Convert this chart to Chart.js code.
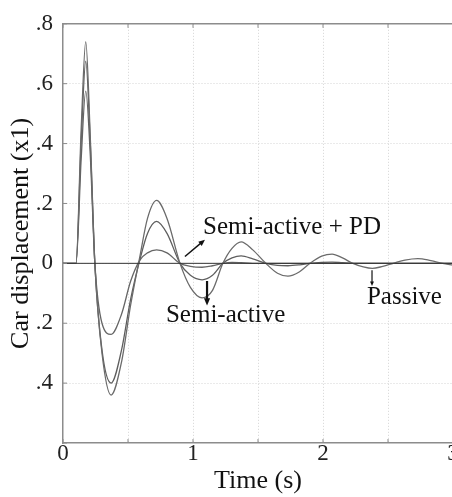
<!DOCTYPE html>
<html>
<head>
<meta charset="utf-8">
<script src="https://cdn.jsdelivr.net/npm/chart.js@4.4.0/dist/chart.umd.min.js"></script>
<style>
html, body { margin: 0; padding: 0; background: #fff; overflow: hidden; }
#wrap { width: 470px; height: 497px; }
</style>
</head>
<body>
<div id="wrap"><canvas id="chart" width="470" height="497"></canvas></div>
<script>
// time (s) and car displacement
var times        = [0, 0.1, 0.14, 0.175, 0.21, 0.245, 0.3, 0.37, 0.45, 0.52, 0.59, 0.65, 0.72, 0.8, 0.9, 0.98, 1.07, 1.15, 1.23, 1.3, 1.37, 1.46, 1.56, 1.65, 1.73, 1.82, 1.9, 1.99, 2.07, 2.15, 2.23, 2.31, 2.38, 2.46, 2.54, 2.63, 2.73, 2.83, 2.92, 3.0];
var passive      = [0, 0, 0.45, 0.74, 0.42, 0, -0.30, -0.44, -0.33, -0.14, 0.02, 0.15, 0.21, 0.15, 0, -0.08, -0.115, -0.09, 0, 0.05, 0.072, 0.045, 0, -0.033, -0.043, -0.028, 0, 0.024, 0.031, 0.018, 0, -0.012, -0.017, -0.01, 0, 0.011, 0.016, 0.009, 0, -0.006];
var semiActive   = [0, 0, 0.41, 0.675, 0.40, 0, -0.29, -0.40, -0.29, -0.12, 0.01, 0.10, 0.14, 0.10, 0, -0.04, -0.055, -0.04, 0, 0.018, 0.025, 0.015, 0, -0.007, -0.008, -0.005, 0, 0.003, 0.004, 0.002, 0, 0, 0, 0, 0, 0, 0, 0, 0, 0];
var semiActivePD = [0, 0, 0.35, 0.575, 0.36, 0, -0.20, -0.237, -0.17, -0.06, 0.01, 0.035, 0.045, 0.035, 0, -0.01, -0.013, -0.008, 0, 0.003, 0.002, 0, 0, 0, 0, 0, 0, 0, 0, 0, 0, 0, 0, 0, 0, 0, 0, 0, 0, 0];
var zeroLine     = [0, 0];
var zeroTimes    = [0, 3];

function pairs(xs, ys) {
    return xs.map(function (x, i) { return { x: x, y: ys[i] }; });
}

var serif = "'Liberation Serif', 'Times New Roman', serif";

var notes = [
    { text: "Semi-active + PD", x: 1.077, y: 0.099, from: [0.938, 0.023], to: [1.092, 0.079], w: 1.5, head: 7 },
    { text: "Semi-active", x: 0.792, y: -0.197, from: [1.108, -0.059], to: [1.108, -0.141], w: 2.2, head: 8 },
    { text: "Passive", x: 2.338, y: -0.135, from: [2.377, -0.023], to: [2.377, -0.076], w: 1.2, head: 5 }
];

var framePlugin = {
    id: "frame",
    afterDatasetsDraw: function (chart) {
        var ctx = chart.ctx, a = chart.chartArea;
        var xs = chart.scales.x, ys = chart.scales.y;
        ctx.save();
        ctx.strokeStyle = "#8c8c8c";
        ctx.lineWidth = 1.5;
        ctx.beginPath();
        ctx.moveTo(a.left, a.top);
        ctx.lineTo(a.right, a.top);
        ctx.lineTo(a.right, a.bottom);
        ctx.stroke();
        // inward tick marks
        ctx.lineWidth = 1;
        xs.ticks.forEach(function (t) {
            var px = xs.getPixelForValue(t.value);
            ctx.beginPath();
            ctx.moveTo(px, a.top); ctx.lineTo(px, a.top + 4);
            ctx.moveTo(px, a.bottom); ctx.lineTo(px, a.bottom - 4);
            ctx.stroke();
        });
        ys.ticks.forEach(function (t) {
            var py = ys.getPixelForValue(t.value);
            ctx.beginPath();
            ctx.moveTo(a.left, py); ctx.lineTo(a.left + 4, py);
            ctx.stroke();
        });
        // labels with arrows
        ctx.fillStyle = "#111";
        ctx.strokeStyle = "#111";
        ctx.font = "25px " + serif;
        ctx.textBaseline = "alphabetic";
        ctx.textAlign = "left";
        notes.forEach(function (n) {
            ctx.fillText(n.text, xs.getPixelForValue(n.x), ys.getPixelForValue(n.y));
            var x0 = xs.getPixelForValue(n.from[0]), y0 = ys.getPixelForValue(n.from[1]);
            var x1 = xs.getPixelForValue(n.to[0]), y1 = ys.getPixelForValue(n.to[1]);
            var ang = Math.atan2(y1 - y0, x1 - x0);
            ctx.lineWidth = n.w;
            ctx.beginPath();
            ctx.moveTo(x0, y0);
            ctx.lineTo(x1 - Math.cos(ang) * n.head * 0.6, y1 - Math.sin(ang) * n.head * 0.6);
            ctx.stroke();
            ctx.beginPath();
            ctx.moveTo(x1, y1);
            ctx.lineTo(x1 - Math.cos(ang - 0.4) * n.head, y1 - Math.sin(ang - 0.4) * n.head);
            ctx.lineTo(x1 - Math.cos(ang + 0.4) * n.head, y1 - Math.sin(ang + 0.4) * n.head);
            ctx.closePath();
            ctx.fill();
        });
        ctx.restore();
    }
};

function lineSet(label, ys, color) {
    return {
        label: label,
        data: pairs(times, ys),
        borderColor: color,
        borderWidth: 1.3,
        pointRadius: 0,
        fill: false,
        cubicInterpolationMode: "monotone"
    };
}

function gridColor(c) {
    var s = c.scale;
    if (c.tick && (Math.abs(c.tick.value - s.min) < 1e-6 || Math.abs(c.tick.value - s.max) < 1e-6)) return "rgba(0,0,0,0)";
    return "#d4d4d4";
}

new Chart(document.getElementById("chart").getContext("2d"), {
    type: "line",
    data: {
        datasets: [
            { label: "zero", data: pairs(zeroTimes, zeroLine), borderColor: "#333", borderWidth: 1, pointRadius: 0 },
            lineSet("Passive", passive, "#6b6b6b"),
            lineSet("Semi-active", semiActive, "#5e5e5e"),
            lineSet("Semi-active + PD", semiActivePD, "#666")
        ]
    },
    options: {
        responsive: false,
        animation: false,
        events: [],
        layout: { padding: { left: 0, top: 19, right: 17, bottom: 0 } },
        plugins: { legend: { display: false }, tooltip: { enabled: false } },
        scales: {
            x: {
                type: "linear",
                min: 0, max: 3,
                afterFit: function (s) { s.height = 54; },
                grid: { color: gridColor, drawTicks: false, lineWidth: 1 },
                border: { color: "#8c8c8c", width: 1.5, dash: [1, 2] },
                ticks: {
                    stepSize: 0.5,
                    padding: -3,
                    color: "#222",
                    font: { family: serif, size: 23 },
                    maxRotation: 0,
                    autoSkip: false,
                    callback: function (v) { return Number.isInteger(v) ? String(v) : ""; }
                },
                title: { display: true, text: "Time (s)", color: "#111", font: { family: serif, size: 26 }, padding: { top: 0, bottom: 0 } }
            },
            y: {
                min: -0.6, max: 0.8,
                afterFit: function (s) { s.width = 63; },
                grid: { color: gridColor, drawTicks: false, lineWidth: 1 },
                border: { color: "#8c8c8c", width: 1.5, dash: [1, 2] },
                ticks: {
                    stepSize: 0.2,
                    padding: 10,
                    color: "#222",
                    font: { family: serif, size: 23 },
                    callback: function (v) {
                        var r = Math.round(v * 10) / 10;
                        if (r === 0) return "0";
                        if (r <= -0.6) return "";
                        return Math.abs(r).toFixed(1).replace("0.", ".");
                    }
                },
                title: { display: true, text: "Car displacement (x1)", color: "#111", font: { family: serif, size: 26 }, padding: { top: 6, bottom: 0 } }
            }
        }
    },
    plugins: [framePlugin]
});
</script>
</body>
</html>
